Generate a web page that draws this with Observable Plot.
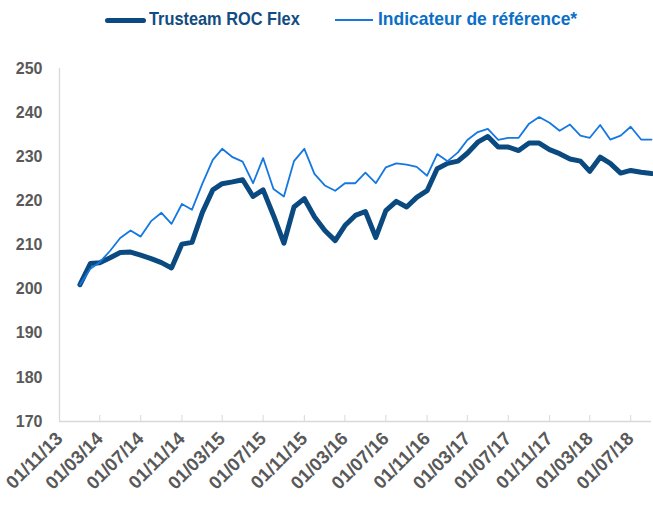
<!DOCTYPE html>
<html>
<head>
<meta charset="utf-8">
<script src="https://cdn.jsdelivr.net/npm/d3@7"></script>
<script src="https://cdn.jsdelivr.net/npm/@observablehq/plot@0.6"></script>
<style>
  body { margin: 0; background: white; }
  #legend { position: relative; width: 653px; height: 40px; font: bold 19px 'Liberation Sans', Arial, sans-serif; }
  #legend span { position: absolute; white-space: nowrap; }
  #legend .txt { transform-origin: 0 50%; }
</style>
</head>
<body>
<div id="legend">
  <span style="left:105px;top:17.5px;width:41px;height:5px;background:#0A4A80;border-radius:3px"></span>
  <span class="txt" style="left:149px;top:8px;color:#124C82;transform:scaleX(0.86)">Trusteam ROC Flex</span>
  <span style="left:335px;top:19px;width:38px;height:2px;background:#1478E0"></span>
  <span class="txt" style="left:378px;top:8px;color:#0B6FC6;transform:scaleX(0.92)">Indicateur de référence*</span>
</div>
<div id="chart"></div>
<script>
// Series names
const seriesNames = ["Trusteam ROC Flex", "Indicateur de référence*"];
// Monthly observations starting January 2014
const firstMonth = "2014-01-01";
const rocFlex = [
  201.0, 205.8, 206.0, 207.1, 208.3, 208.4, 207.7, 206.9, 206.0, 204.8, 210.2, 210.6,
  217.4, 222.5, 223.9, 224.3, 224.8, 221.0, 222.5, 216.7, 210.4, 218.6, 220.5, 216.4,
  213.3, 211.0, 214.4, 216.7, 217.6, 211.7, 217.8, 219.9, 218.6, 220.8, 222.3, 227.3,
  228.5, 229.0, 230.8, 233.3, 234.6, 232.2, 232.2, 231.4, 233.1, 233.1, 231.6, 230.7,
  229.5, 229.0, 226.7, 229.9, 228.5, 226.3, 226.9, 226.5, 226.2
];
const reference = [
  201.0, 204.6, 206.1, 208.7, 211.6, 213.3, 211.9, 215.4, 217.3, 214.8, 219.3, 218.0,
  223.9, 229.3, 231.8, 229.9, 228.9, 224.0, 229.7, 222.7, 221.0, 229.0, 231.8, 226.1,
  223.5, 222.3, 224.0, 224.0, 226.4, 224.0, 227.6, 228.5, 228.2, 227.7, 225.7, 230.6,
  229.0, 231.0, 233.8, 235.6, 236.3, 233.8, 234.3, 234.3, 237.5, 239.0, 237.7, 235.9,
  237.3, 234.8, 234.3, 237.2, 233.9, 234.8, 236.8, 233.9, 233.9
];
// Axis ticks
const xTickLabels = ["01/11/13","01/03/14","01/07/14","01/11/14","01/03/15","01/07/15","01/11/15",
  "01/03/16","01/07/16","01/11/16","01/03/17","01/07/17","01/11/17","01/03/18","01/07/18"];
const yTicks = [170, 180, 190, 200, 210, 220, 230, 240, 250];

const parseTick = d3.utcParse("%d/%m/%y");
const tickDates = xTickLabels.map(parseTick);
const start = new Date(firstMonth);
const dates = rocFlex.map((_, i) => d3.utcMonth.offset(start, i));
const data = dates.map((d, i) => ({date: d, roc: rocFlex[i], ref: reference[i]}));
const xStart = tickDates[0];
const xEnd = dates[dates.length - 1];

const dark = "#0A4A80";
const light = "#1478E0";

const chart = Plot.plot({
  width: 653,
  height: 472,
  marginTop: 28,
  marginBottom: 91,
  marginLeft: 59,
  marginRight: 2,
  style: {fontFamily: "'Liberation Sans', Arial, sans-serif", fontWeight: "bold", background: "white", overflow: "visible"},
  x: {type: "utc", domain: [xStart, xEnd]},
  y: {domain: [170, 250]},
  marks: [
    Plot.ruleY([170], {stroke: "#D9D9D9", strokeWidth: 1.3}),
    Plot.ruleX([xStart], {stroke: "#D9D9D9", strokeWidth: 1.3}),
    Plot.axisY({ticks: yTicks, tickSize: 0, tickPadding: 17, fontSize: 16, fill: "#595959", label: null}),
    Plot.axisX({ticks: tickDates, tickSize: -6, tickPadding: 20, tickRotate: -45,
      tickFormat: d3.utcFormat("%d/%m/%y"), fontSize: 18.5, fill: "#595959", stroke: "#D9D9D9", label: null}),
    Plot.line(data, {x: "date", y: "roc", stroke: dark, strokeWidth: 5, strokeLinejoin: "round", strokeLinecap: "round"}),
    Plot.line(data, {x: "date", y: "ref", stroke: light, strokeWidth: 1.8, strokeLinejoin: "round"})
  ]
});
document.getElementById("chart").appendChild(chart);
</script>
</body>
</html>
